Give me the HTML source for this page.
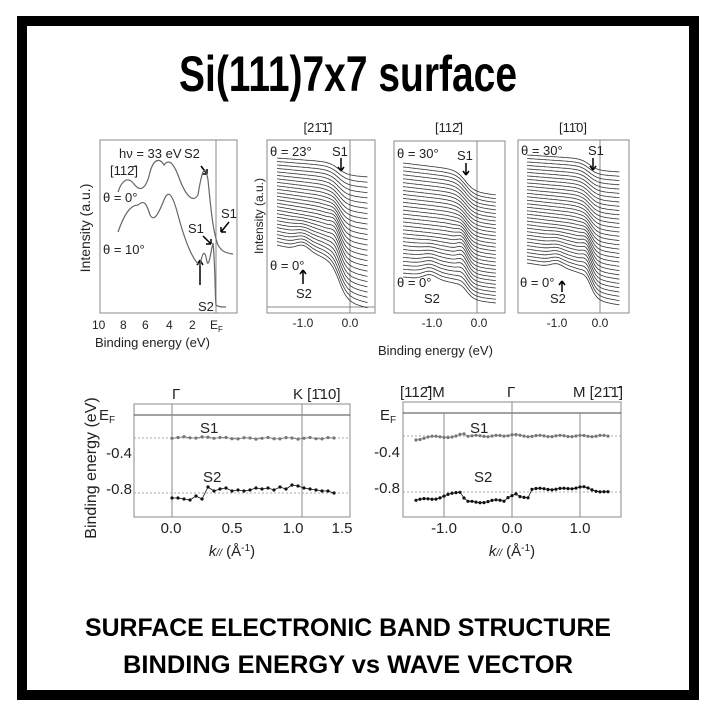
<!DOCTYPE html>
<html><head><meta charset="utf-8"><style>
html,body{margin:0;padding:0;background:#fff;}
svg{display:block;font-family:"Liberation Sans",Arial,sans-serif;}
</style></head><body>
<svg id="s" width="713" height="721" viewBox="0 0 713 721" xmlns="http://www.w3.org/2000/svg">
<rect x="0" y="0" width="713" height="721" fill="#fff"/>
<rect x="22" y="21" width="672" height="674" fill="none" stroke="#000" stroke-width="10"/>
<text x="348" y="91" font-size="50" font-weight="bold" text-anchor="middle" textLength="338" lengthAdjust="spacingAndGlyphs">Si(111)7x7 surface</text>
<text x="348" y="636" font-size="25" font-weight="bold" text-anchor="middle" textLength="526" lengthAdjust="spacingAndGlyphs">SURFACE ELECTRONIC BAND STRUCTURE</text>
<text x="348" y="673" font-size="25" font-weight="bold" text-anchor="middle" textLength="450" lengthAdjust="spacingAndGlyphs">BINDING ENERGY vs WAVE VECTOR</text>

<g fill="none" stroke="#888" stroke-width="1">
<rect x="100" y="140" width="137" height="173"/>
<line x1="216" y1="140" x2="216" y2="313"/>
<rect x="267" y="140" width="108" height="173"/>
<line x1="267" y1="307" x2="375" y2="307"/>
<line x1="350" y1="140" x2="350" y2="313"/>
<rect x="394" y="141" width="111" height="172"/>
<line x1="477" y1="141" x2="477" y2="313"/>
<rect x="518" y="140" width="111" height="173"/>
<line x1="600" y1="140" x2="600" y2="313"/>
</g>
<g font-size="13" fill="#222">
<text x="119" y="158">hν = 33 eV</text>
<text x="184" y="158">S2</text>
<text x="110" y="175">[11<tspan>2̄</tspan>]</text>
<text x="103" y="202">θ = 0°</text>
<text x="221" y="218">S1</text>
<text x="188" y="233">S1</text>
<text x="103" y="254">θ = 10°</text>
<text x="198" y="311">S2</text>
<text x="92" y="329" font-size="12">10</text><text x="120" y="329" font-size="12">8</text><text x="142" y="329" font-size="12">6</text><text x="166" y="329" font-size="12">4</text><text x="189" y="329" font-size="12">2</text>
<text x="210" y="329" font-size="12">E<tspan font-size="8" dy="3">F</tspan></text>
<text x="95" y="347">Binding energy (eV)</text>
<text transform="translate(90,228) rotate(-90)" text-anchor="middle" font-size="14">Intensity  (a.u.)</text>
<text x="318" y="132" text-anchor="middle">[21̄1̄]</text>
<text x="449" y="132" text-anchor="middle">[112̄]</text>
<text x="573" y="132" text-anchor="middle">[11̄0]</text>
<text x="270" y="156">θ = 23°</text><text x="332" y="156">S1</text>
<text x="397" y="158">θ = 30°</text><text x="457" y="160">S1</text>
<text x="521" y="155">θ = 30°</text><text x="588" y="155">S1</text>
<text x="270" y="270">θ = 0°</text><text x="296" y="298">S2</text>
<text x="397" y="287">θ = 0°</text><text x="424" y="303">S2</text>
<text x="520" y="287">θ = 0°</text><text x="550" y="303">S2</text>
<text transform="translate(263,216) rotate(-90)" text-anchor="middle" font-size="12">Intensity (a.u.)</text>
<g font-size="12" text-anchor="middle"><text x="303" y="327">-1.0</text><text x="350" y="327">0.0</text>
<text x="432" y="327">-1.0</text><text x="479" y="327">0.0</text>
<text x="557" y="327">-1.0</text><text x="600" y="327">0.0</text></g>
<text x="378" y="355">Binding energy (eV)</text>
</g>
<g stroke="#000" stroke-width="1.5" fill="none">
<path d="M201 166 l6 8 M207 174 l-5 0 M207 174 l0 -5"/>
<path d="M229 222 l-8 10 M221 232 l5 0 M221 232 l0 -5"/>
<path d="M203 236 l8 8 M211 244 l-5 0 M211 244 l0 -5"/>
<path d="M200 285 l0 -25 M200 260 l-3 5 M200 260 l3 5"/>
<path d="M341 158 l0 13 M341 171 l-3 -4 M341 171 l3 -4"/>
<path d="M466 163 l0 12 M466 175 l-3 -4 M466 175 l3 -4"/>
<path d="M593 158 l0 12 M593 170 l-3 -4 M593 170 l3 -4"/>
<path d="M303 284 l0 -14 M303 270 l-3 4 M303 270 l3 4"/>
<path d="M562 292 l0 -11 M562 281 l-3 4 M562 281 l3 4"/>
</g>
<path d="M118 192 C122 180 128 176 134 184 C140 192 146 190 150 172 C154 158 160 158 164 165 C168 160 172 160 178 175 C184 192 192 205 198 195 C202 170 205 162 208 180 C211 210 213 232 218 245 C222 252 226 253 233 254" fill="none" stroke="#666" stroke-width="1.2"/>
<path d="M118 232 C124 215 130 205 138 205 C144 200 146 202 150 215 C154 222 158 215 164 200 C168 190 172 192 178 215 C186 245 194 262 200 265 C203 250 205 250 207 262 C209 268 211 250 213 243 C215 260 215 295 216 305 C218 307 222 307 226 307" fill="none" stroke="#666" stroke-width="1.2"/>

<g fill="none" stroke="#888" stroke-width="1">
<rect x="134" y="404" width="216" height="113"/>
<line x1="134" y1="415" x2="350" y2="415" stroke="#444"/>
<line x1="172" y1="404" x2="172" y2="517"/>
<line x1="302" y1="404" x2="302" y2="517"/>
<line x1="134" y1="438" x2="350" y2="438" stroke-dasharray="2,2" stroke="#aaa"/>
<line x1="134" y1="493" x2="350" y2="493" stroke-dasharray="2,2" stroke="#aaa"/>
<rect x="403" y="402" width="218" height="115"/>
<line x1="403" y1="413" x2="621" y2="413" stroke="#444"/>
<line x1="444" y1="413" x2="444" y2="517"/>
<line x1="512" y1="402" x2="512" y2="517"/>
<line x1="580" y1="413" x2="580" y2="517"/>
<line x1="403" y1="436" x2="621" y2="436" stroke-dasharray="2,2" stroke="#aaa"/>
<line x1="403" y1="492" x2="621" y2="492" stroke-dasharray="2,2" stroke="#aaa"/>
</g>
<g font-size="15" fill="#222">
<text x="172" y="399">Γ</text><text x="293" y="399">K [1̄10]</text>
<text x="99" y="420">E<tspan font-size="10" dy="3">F</tspan></text>
<text x="132" y="458" text-anchor="end">-0.4</text><text x="132" y="494" text-anchor="end">-0.8</text>
<text x="200" y="433">S1</text><text x="203" y="482">S2</text>
<g text-anchor="middle"><text x="171" y="533">0.0</text><text x="232" y="533">0.5</text><text x="293" y="533">1.0</text><text x="342" y="533">1.5</text>
<text x="444" y="533">-1.0</text><text x="512" y="533">0.0</text><text x="580" y="533">1.0</text></g>
<text x="232" y="556" text-anchor="middle"><tspan font-style="italic">k<tspan font-size="10">//</tspan></tspan> (Å<tspan font-size="10" dy="-5">-1</tspan><tspan dy="5">)</tspan></text>
<text x="512" y="556" text-anchor="middle"><tspan font-style="italic">k<tspan font-size="10">//</tspan></tspan> (Å<tspan font-size="10" dy="-5">-1</tspan><tspan dy="5">)</tspan></text>
<text transform="translate(96,468) rotate(-90)" text-anchor="middle" font-size="16">Binding energy (eV)</text>
<text x="400" y="397">[112̄]M</text><text x="507" y="397">Γ</text><text x="573" y="397">M [21̄1̄]</text>
<text x="380" y="420">E<tspan font-size="10" dy="3">F</tspan></text>
<text x="400" y="457" text-anchor="end">-0.4</text><text x="400" y="493" text-anchor="end">-0.8</text>
<text x="470" y="433">S1</text><text x="474" y="482">S2</text>
</g>
<g id="pts"></g>
<g id="curves" fill="none" stroke="#333" stroke-width="0.8"></g>
</svg>
<script>
var NS="http://www.w3.org/2000/svg";
function P(d,par,st){var p=document.createElementNS(NS,"path");p.setAttribute("d",d);if(st)for(var k in st)p.setAttribute(k,st[k]);document.getElementById(par).appendChild(p);}
function g(x,m,w){return Math.exp(-(x-m)*(x-m)/(2*w*w));}
function sig(x){return 1/(1+Math.exp(-x));}
function panel(xE0,sc,xL,xR,tL,tR,bL,bR,N,s1mid,s2a){
 var E0=(xL-xE0)/sc,E1=(xR-xE0)/sc;
 for(var i=0;i<N;i++){
  var t=i/(N-1), yL=tL+t*(bL-tL), yR=tR+t*(bR-tR), d="";
  for(var E=E0;E<=E1+0.001;E+=0.025){
   var x=xE0+E*sc;
   var s=0.35*(E-E0)/(E1-E0)+0.65*sig((E+0.25)/0.1);
   var a1=7*g(t,s1mid,0.2), a2=s2a*Math.max(0,t-0.6)*2.5;
   var y=yL+(yR-yL)*s - a1*g(E,-0.3,0.1) - a2*g(E,-1.0,0.14);
   d+=(d?"L":"M")+x.toFixed(1)+" "+y.toFixed(1);
  }
  P(d,"curves");
 }
}
panel(350,47,277,368,158,177,245,308,26,0.65,6);
panel(477,47,403,496,163,195,277,303,30,0.7,5);
panel(600,43,527,620,155,172,263,305,32,0.8,4);
function series(arr,col){var d="";arr.forEach(function(p,i){d+=(i?"L":"M")+p[0]+" "+p[1];var c=document.createElementNS(NS,"circle");c.setAttribute("cx",p[0]);c.setAttribute("cy",p[1]);c.setAttribute("r",1.6);c.setAttribute("fill",col);document.getElementById("pts").appendChild(c);});P(d,"pts",{fill:"none",stroke:col,"stroke-width":"0.8"});}
var a=[],b=[],c=[],e=[];
for(var x=172;x<=334;x+=6){a.push([x,(437.5+Math.sin(x*0.3)*0.8+(x>220?0.8:0)).toFixed(1)]);}
var s2l=[498,498,499,500,496,499,487,491,489,488,491,490,491,490,488,489,488,490,487,489,485,486,488,489,490,491,491,493];
s2l.forEach(function(v,i){b.push([172+i*6,v]);});
for(var x=416;x<=608;x+=4){var v=436+(x<470?2.5-2.5*g(x,450,12)+1.5*Math.sin(x*0.2):0.7*Math.sin(x*0.3))-2*g(x,463,3)-1.5*g(x,512,4);c.push([x,v.toFixed(1)]);}
for(var x=416;x<=608;x+=4){var v;if(x<463)v=500-(x-416)*0.08-5*g(x,458,8);else if(x<470)v=497+(x-463);else if(x<505)v=502-2*g(x,500,6);else if(x<520)v=498-(x-505)*0.3;else if(x<532)v=497;else v=489-2*g(x,580,6)+(x>585?(x-585)*0.15:0);e.push([x,(v+Math.sin(x*1.3)*0.8).toFixed(1)]);}
series(a,"#777");series(b,"#111");series(c,"#777");series(e,"#111");
</script>
</body></html>
